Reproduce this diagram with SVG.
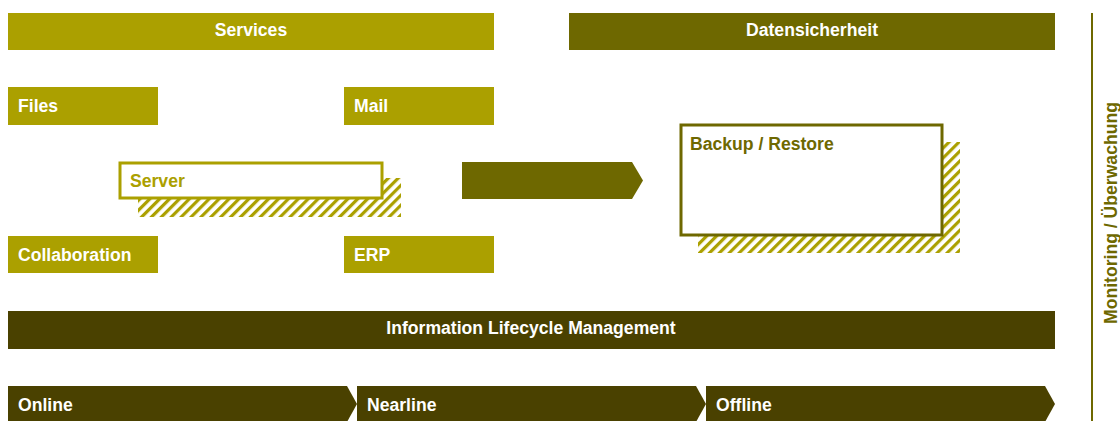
<svg xmlns="http://www.w3.org/2000/svg" width="1120" height="421" viewBox="0 0 1120 421">
<style>
text{font-family:"Liberation Sans",Arial,sans-serif;font-weight:bold;font-size:17.6px}
.w{fill:#ffffff}
.c{text-anchor:middle}
.y{fill:#aba000}
.o{fill:#6e6800}
.d{fill:#4a4100}
</style>
<defs>
<pattern id="hy" width="7" height="7" patternUnits="userSpaceOnUse" patternTransform="rotate(45)">
<rect width="3.2" height="7" fill="#aba000"/>
</pattern>
</defs>
<g id="services"><rect class="y" x="8" y="13" width="486" height="37"/><text class="w c" x="251" y="35.5">Services</text></g>
<g id="datensicherheit"><rect class="o" x="569" y="13" width="486" height="37"/><text class="w c" x="812" y="35.5">Datensicherheit</text></g>
<g id="files"><rect class="y" x="8" y="87" width="150" height="38"/><text class="w" x="18" y="112">Files</text></g>
<g id="mail"><rect class="y" x="344" y="87" width="150" height="38"/><text class="w" x="354" y="112">Mail</text></g>
<g id="server"><rect fill="url(#hy)" x="138" y="178" width="263" height="39"/><rect fill="#ffffff" stroke="#aba000" stroke-width="3" x="120" y="163" width="262" height="35"/><text class="y" x="130" y="186.5">Server</text></g>
<g id="connectors"><polygon class="o" points="462,162 632,162 643,180.5 632,199 462,199"/></g>
<g id="backup"><rect fill="url(#hy)" x="698" y="142" width="262" height="111"/><rect fill="#ffffff" stroke="#6e6800" stroke-width="3" x="681" y="125" width="261" height="110"/><text class="o" x="690" y="149.5">Backup / Restore</text></g>
<g id="collaboration"><rect class="y" x="8" y="236" width="150" height="37"/><text class="w" x="18" y="260.5">Collaboration</text></g>
<g id="erp"><rect class="y" x="344" y="236" width="150" height="37"/><text class="w" x="354" y="260.5">ERP</text></g>
<g id="ilm"><rect class="d" x="8" y="311" width="1047" height="38"/><text class="w c" x="531" y="333.5">Information Lifecycle Management</text></g>
<g id="online"><polygon class="d" points="8,386 347,386 357,404 347,422 8,422"/><text class="w" x="18" y="410.5">Online</text></g>
<g id="nearline"><polygon class="d" points="357,386 696,386 706,404 696,422 357,422"/><text class="w" x="367" y="410.5">Nearline</text></g>
<g id="offline"><polygon class="d" points="706,386 1045,386 1055,404 1045,422 706,422"/><text class="w" x="716" y="410.5">Offline</text></g>
<g id="monitoring"><line x1="1092" y1="13" x2="1092" y2="421" stroke="#6e6800" stroke-width="2"/><text class="o c" transform="translate(1117,213) rotate(-90)">Monitoring / Überwachung</text></g>
</svg>
